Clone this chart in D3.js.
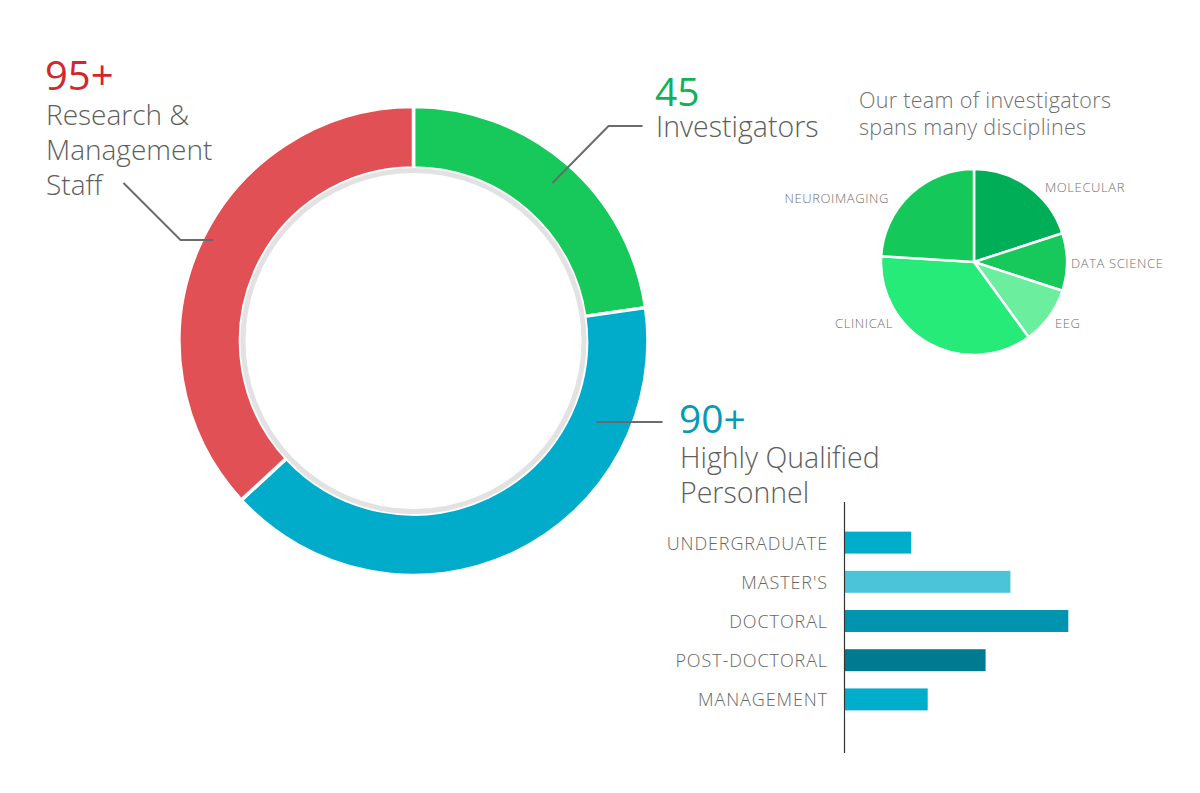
<!DOCTYPE html>
<html>
<head>
<meta charset="utf-8">
<script src="https://cdn.jsdelivr.net/npm/d3@7"></script>
<style>
  body { margin: 0; background: #fff; }
  svg text { font-family: "Open Sans", "DejaVu Sans", sans-serif; font-weight: 300; }
</style>
</head>
<body>
<div id="chart"></div>
<script>
/** Team ring data (clockwise from 12 o'clock) */
const ringGroups = ["Investigators", "Highly Qualified Personnel", "Research & Management Staff"];
const ringCounts = ["45", "90+", "95+"];
const ringShares = [45, 80, 73]; // arc sizes as drawn in the picture
const ringColors = ["#16c95a", "#00acca", "#e15055"];
const countColors = ["#12b05a", "#0a99b4", "#d2272f"];

/** Disciplines pie data (clockwise from 12 o'clock) */
const disciplines = ["MOLECULAR", "DATA SCIENCE", "EEG", "CLINICAL", "NEUROIMAGING"];
const disciplineShares = [20, 10, 10, 36, 24];
const disciplineColors = ["#00ae57", "#16c95a", "#6cee9f", "#26eb78", "#14c95a"];

/** HQP bar data */
const hqpLevels = ["UNDERGRADUATE", "MASTER'S", "DOCTORAL", "POST-DOCTORAL", "MANAGEMENT"];
const hqpCounts = [8, 20, 27, 17, 10];
const hqpColors = ["#00aecc", "#4bc4da", "#0094af", "#007a91", "#00aecc"];

/** Canvas */
const width = 1200;
const height = 793;
const labelGrey = "#5e5e5e";
const lineGrey = "#6b6b6b";

const svg = d3
  .select("#chart")
  .append("svg")
  .attr("width", width)
  .attr("height", height);

/** ---------- Big donut ---------- */
const ringCx = 413.5;
const ringCy = 341;

const ringPie = d3.pie().sort(null).value((d) => d);
const ringArc = d3.arc().innerRadius(173).outerRadius(234.5);

const ring = svg.append("g").attr("transform", `translate(${ringCx},${ringCy})`);

ring
  .selectAll("path")
  .data(ringPie(ringShares))
  .enter()
  .append("path")
  .attr("d", ringArc)
  .attr("fill", (_, i) => ringColors[i])
  .attr("stroke", "#fff")
  .attr("stroke-width", 3.5);

/** Thin grey inner ring */
ring
  .append("circle")
  .attr("r", 170.5)
  .attr("fill", "none")
  .attr("stroke", "#e2e2e2")
  .attr("stroke-width", 5);

/** Leader lines, relative to ring centre */
const leaders = [
  [[139, -158], [195, -215], [229, -215]],
  [[183, 81], [249, 81]],
  [[-200, -101], [-233, -101], [-290, -158]],
];
ring
  .selectAll("polyline")
  .data(leaders)
  .enter()
  .append("polyline")
  .attr("points", (d) => d.map((p) => p.join(",")).join(" "))
  .attr("fill", "none")
  .attr("stroke", lineGrey)
  .attr("stroke-width", 2);

/** Callout text blocks */
const callouts = [
  { x: 655, y: 106, size: 39, lines: ["Investigators"], lineSize: 28.5, gap: 31 },
  { x: 679, y: 433, size: 39, lines: ["Highly Qualified", "Personnel"], lineSize: 28.5, gap: 34.5 },
  { x: 45, y: 90, size: 40, lines: ["Research &", "Management", "Staff"], lineSize: 28, gap: 35 },
];

callouts.forEach((c, i) => {
  const g = svg.append("g");
  g.append("text")
    .attr("x", c.x)
    .attr("y", c.y)
    .attr("font-size", c.size)
    .style("font-weight", 400)
    .attr("fill", countColors[i])
    .text(ringCounts[i]);
  g.selectAll("text.line")
    .data(c.lines)
    .enter()
    .append("text")
    .attr("class", "line")
    .attr("x", c.x + 1)
    .attr("y", (_, j) => c.y + c.gap + j * 35)
    .attr("font-size", c.lineSize)
    .attr("fill", labelGrey)
    .text((d) => d);
});

/** ---------- Disciplines pie ---------- */
svg
  .selectAll("text.subtitle")
  .data(["Our team of investigators", "spans many disciplines"])
  .enter()
  .append("text")
  .attr("class", "subtitle")
  .attr("x", 859)
  .attr("y", (_, i) => 108 + i * 27)
  .attr("font-size", 21.5)
  .attr("letter-spacing", 0.3)
  .attr("fill", "#707070")
  .text((d) => d);

const pieCx = 974;
const pieCy = 262;
const smallPie = d3.pie().sort(null).value((d) => d);
const smallArc = d3.arc().innerRadius(0).outerRadius(93);

const pieG = svg.append("g").attr("transform", `translate(${pieCx},${pieCy})`);

pieG
  .selectAll("path")
  .data(smallPie(disciplineShares))
  .enter()
  .append("path")
  .attr("d", smallArc)
  .attr("fill", (_, i) => disciplineColors[i])
  .attr("stroke", "#fff")
  .attr("stroke-width", 2.5);

/** Label anchors relative to pie centre */
const pieLabelPos = [
  [71, -70, "start"],
  [97, 6, "start"],
  [81, 66, "start"],
  [-81, 66, "end"],
  [-85, -59, "end"],
];
pieG
  .selectAll("text")
  .data(disciplines)
  .enter()
  .append("text")
  .attr("x", (_, i) => pieLabelPos[i][0])
  .attr("y", (_, i) => pieLabelPos[i][1])
  .attr("text-anchor", (_, i) => pieLabelPos[i][2])
  .attr("font-size", 13)
  .attr("letter-spacing", 0.6)
  .attr("fill", "#707070")
  .text((d) => d);

/** ---------- HQP bars ---------- */
const axisX = 845;
const xScale = d3
  .scaleLinear()
  .domain([0, d3.max(hqpCounts)])
  .range([axisX, 1068.3]);

const yScale = d3
  .scaleBand()
  .domain(hqpLevels)
  .range([523, 719])
  .paddingInner(0.44)
  .paddingOuter(0.22);

svg
  .selectAll("rect.bar")
  .data(hqpCounts)
  .enter()
  .append("rect")
  .attr("class", "bar")
  .attr("x", xScale(0))
  .attr("y", (_, i) => yScale(hqpLevels[i]))
  .attr("width", (d) => xScale(d) - xScale(0))
  .attr("height", yScale.bandwidth())
  .attr("fill", (_, i) => hqpColors[i]);

svg
  .append("line")
  .attr("x1", axisX - 0.5)
  .attr("x2", axisX - 0.5)
  .attr("y1", 502)
  .attr("y2", 753)
  .attr("stroke", "#333")
  .attr("stroke-width", 1.2);

svg
  .selectAll("text.level")
  .data(hqpLevels)
  .enter()
  .append("text")
  .attr("class", "level")
  .attr("x", 828)
  .attr("y", (d) => yScale(d) + yScale.bandwidth() / 2 + 7)
  .attr("text-anchor", "end")
  .attr("font-size", 18)
  .attr("letter-spacing", 0.9)
  .attr("fill", "#666")
  .text((d) => d);
</script>
</body>
</html>
